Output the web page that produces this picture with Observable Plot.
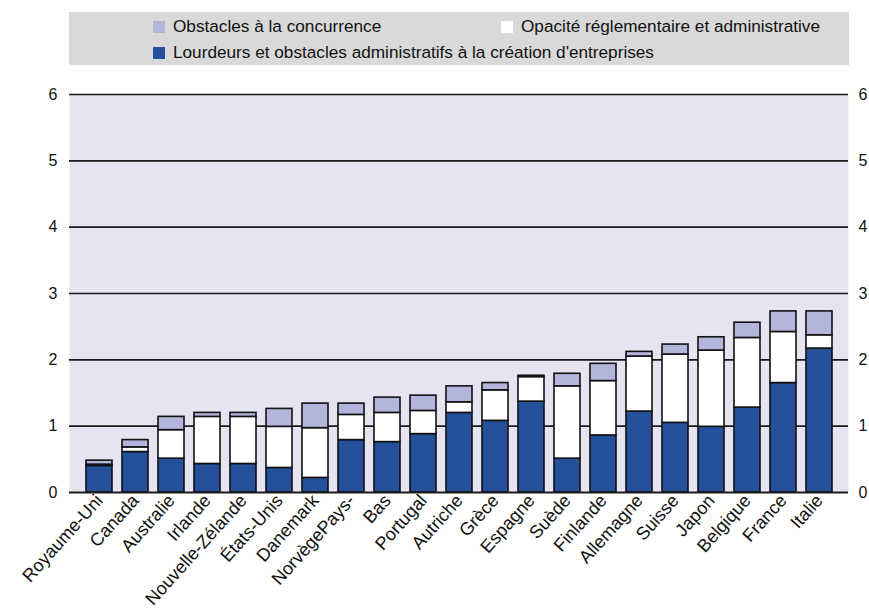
<!DOCTYPE html>
<html>
<head>
<meta charset="utf-8">
<script src="https://cdn.jsdelivr.net/npm/d3@7"></script>
<script src="https://cdn.jsdelivr.net/npm/@observablehq/plot@0.6"></script>
<style>
  body { margin: 0; background: #fff; font-family: "Liberation Sans", Arial, sans-serif; }
  #wrap { width: 869px; height: 613px; position: relative; overflow: hidden; }
  #legend { position: relative; margin-left: 69px; margin-top: 12px; width: 780px; height: 53px; background: #d9d9d9; font-size: 17.2px; color: #111; }
  .item { position: absolute; display: flex; align-items: center; white-space: nowrap; }
  .sw { width: 12px; height: 12px; margin-right: 8px; }
</style>
</head>
<body>
<div id="wrap">
  <div id="legend"></div>
  <div id="chart"></div>
</div>
<script>
const countries = ["Royaume-Uni","Canada","Australie","Irlande","Nouvelle-Zélande","États-Unis","Danemark","NorvègePays-","Bas","Portugal","Autriche","Grèce","Espagne","Suède","Finlande","Allemagne","Suisse","Japon","Belgique","France","Italie"];
const lourdeurs = [0.40,0.61,0.51,0.43,0.43,0.37,0.22,0.79,0.76,0.88,1.20,1.08,1.37,0.51,0.86,1.22,1.05,0.99,1.28,1.65,2.17];
const opacite   = [0.02,0.07,0.43,0.71,0.71,0.62,0.75,0.38,0.44,0.35,0.16,0.46,0.37,1.09,0.82,0.83,1.03,1.15,1.05,0.77,0.20];
const obstacles = [0.06,0.11,0.20,0.06,0.06,0.27,0.37,0.17,0.23,0.23,0.24,0.11,0.02,0.19,0.26,0.07,0.15,0.20,0.23,0.31,0.36];
const yTicks = [0,1,2,3,4,5,6];

const seriesNames = ["Lourdeurs et obstacles administratifs à la création d'entreprises","Opacité réglementaire et administrative","Obstacles à la concurrence"];
const seriesColors = ["#25509c","#ffffff","#b4b5dc"];
const seriesValues = [lourdeurs, opacite, obstacles];

const data = [];
seriesNames.forEach((s, si) => countries.forEach((c, i) => data.push({country: c, series: s, value: seriesValues[si][i]})));

// legend
const legend = document.getElementById("legend");
const legendItems = [
  {name: seriesNames[2], color: seriesColors[2], left: 84, top: 4},
  {name: seriesNames[1], color: seriesColors[1], left: 432, top: 4},
  {name: seriesNames[0], color: seriesColors[0], left: 84, top: 30}
];
legendItems.forEach(it => {
  const d = document.createElement("div");
  d.className = "item";
  d.style.left = it.left + "px";
  d.style.top = it.top + "px";
  d.innerHTML = `<span class="sw" style="background:${it.color}"></span><span>${it.name}</span>`;
  legend.appendChild(d);
});

const chart = Plot.plot({
  width: 869,
  height: 548,
  marginTop: 29,
  marginBottom: 121,
  marginLeft: 69,
  marginRight: 21,
  style: {fontFamily: "Liberation Sans, Arial, sans-serif", fontSize: "15px", color: "#111", background: "transparent"},
  x: {domain: countries, padding: 0.29, label: null},
  y: {domain: [0, 6], label: null},
  color: {domain: seriesNames, range: seriesColors},
  marks: [
    Plot.frame({fill: "#e5e4f0", stroke: null}),
    Plot.ruleY(yTicks.slice(1), {stroke: "#1a1a1a", strokeWidth: 1.6}),
    Plot.barY(data, {x: "country", y: "value", fill: "series", order: seriesNames, stroke: "#111", strokeWidth: 1.6}),
    Plot.ruleY([0], {stroke: "#1a1a1a", strokeWidth: 1.8}),
    Plot.axisY({anchor: "left", ticks: yTicks, tickSize: 0, tickPadding: 12, tickFormat: d3.format("d"), fontSize: 16}),
    Plot.axisY({anchor: "right", ticks: yTicks, tickSize: 0, tickPadding: 10, tickFormat: d3.format("d"), fontSize: 16}),
    Plot.axisX({tickSize: 0, tickRotate: -48, tickPadding: 5, fontSize: 18})
  ]
});
document.getElementById("chart").appendChild(chart);
</script>
</body>
</html>
